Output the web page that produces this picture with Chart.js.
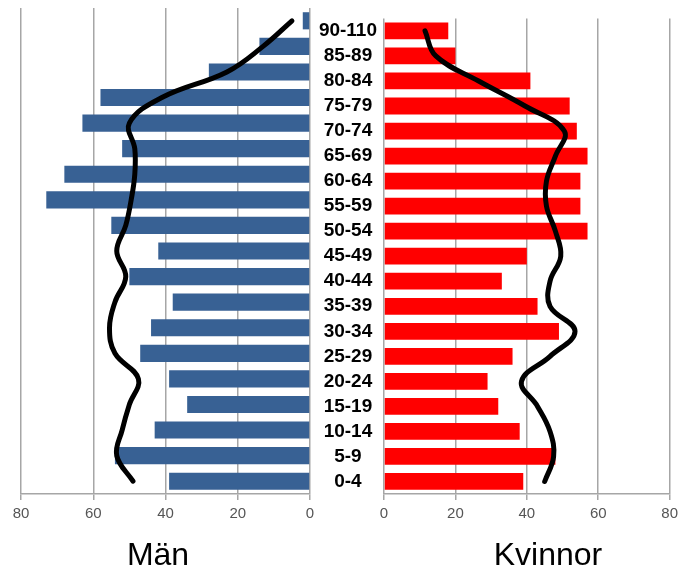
<!DOCTYPE html>
<html>
<head>
<meta charset="utf-8">
<script src="https://cdn.jsdelivr.net/npm/chart.js@4/dist/chart.umd.min.js"></script>
<style>
  html, body { margin: 0; padding: 0; background: #fff; }
  #wrap { position: relative; width: 683px; height: 568px; overflow: hidden; }
  .box { position: absolute; top: 0; }
  .title {
    position: absolute; top: 538px; text-align: center;
    font-family: Arial, "Liberation Sans", sans-serif; font-size: 32px; line-height: 32px; color: #000;
  }
</style>
</head>
<body>
<div id="wrap">
  <div class="box" style="left:0; width:330px; height:568px;"><canvas id="manChart"></canvas></div>
  <div class="box" style="left:310px; width:373px; height:568px;"><canvas id="kvinnorChart"></canvas></div>
  <div class="title" style="left:98px; width:120px;">Män</div>
  <div class="title" style="left:468px; width:160px;">Kvinnor</div>
</div>
<script>
// Åldersgrupper (uppifrån och ned)
const ageGroups = ['90-110', '85-89', '80-84', '75-79', '70-74', '65-69', '60-64', '55-59', '50-54',
  '45-49', '40-44', '35-39', '30-34', '25-29', '20-24', '15-19', '10-14', '5-9', '0-4'];

// Staplar
const manBars = [2, 14, 28, 58, 63, 52, 68, 73, 55, 42, 50, 38, 44, 47, 39, 34, 43, 54, 39];
const kvinnorBars = [18, 20, 41, 52, 54, 57, 55, 55, 57, 40, 33, 43, 49, 36, 29, 32, 38, 48, 39];

// Svarta kurvor (jämförelse)
const manCurve = [5, 13, 23, 41, 50, 48.5, 48.5, 49.5, 51, 53.5, 51, 54, 55.5, 54, 47.5, 50, 52, 53.5, 49];
const kvinnorCurve = [11.5, 14.5, 26.5, 39.5, 50.5, 48, 45.5, 45.5, 48, 49.5, 46.5, 46.5, 53.5, 46.5, 38.5, 43, 46.5, 47.5, 45];

const xTicks = [0, 20, 40, 60, 80];

const FONT = 'Arial, "Liberation Sans", sans-serif';
const GRID = '#a6a6a6';

function buildChart(canvasId, { bars, curve, color, reverse, showLabels, padding }) {
    const ctx = document.getElementById(canvasId).getContext('2d');
    return new Chart(ctx, {
        data: {
            labels: ageGroups,
            datasets: [
                {
                    type: 'line',
                    indexAxis: 'y',
                    data: curve,
                    borderColor: '#000',
                    borderWidth: 5,
                    borderCapStyle: 'round',
                    borderJoinStyle: 'round',
                    tension: 0.4,
                    pointRadius: 0,
                    fill: false,
                    order: 0
                },
                {
                    type: 'bar',
                    indexAxis: 'y',
                    data: bars,
                    backgroundColor: color,
                    categoryPercentage: 1,
                    barPercentage: 0.67,
                    order: 1
                }
            ]
        },
        options: {
            indexAxis: 'y',
            responsive: true,
            maintainAspectRatio: false,
            animation: false,
            layout: { padding },
            plugins: {
                legend: { display: false },
                tooltip: { enabled: false }
            },
            scales: {
                x: {
                    min: 0,
                    max: 80,
                    reverse,
                    afterBuildTicks: (scale) => { scale.ticks = xTicks.map(v => ({ value: v })); },
                    grid: { color: GRID, lineWidth: 1.5, tickLength: 6 },
                    border: { color: GRID, width: 1.5 },
                    ticks: { color: '#555', font: { family: FONT, size: 15 }, padding: 5 }
                },
                y: {
                    display: showLabels,
                    grid: { display: false, drawTicks: false },
                    border: { display: false },
                    afterFit: (scale) => { if (showLabels) scale.width = 74; },
                    ticks: {
                        color: '#000',
                        autoSkip: false,
                        crossAlign: 'center',
                        padding: 7,
                        font: { family: FONT, size: 19, weight: 'bold' }
                    }
                }
            }
        }
    });
}

buildChart('manChart', {
    bars: manBars, curve: manCurve, color: '#386194', reverse: true, showLabels: false,
    padding: { top: 8, left: 21, right: 20, bottom: 40 }
});

buildChart('kvinnorChart', {
    bars: kvinnorBars, curve: kvinnorCurve, color: '#ff0000', reverse: false, showLabels: true,
    padding: { top: 8, left: 0, right: 10, bottom: 40 }
});
</script>
</body>
</html>
